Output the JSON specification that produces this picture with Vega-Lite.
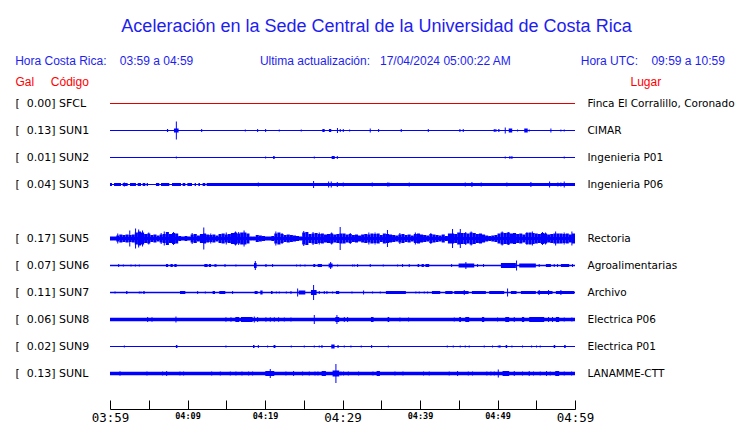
{
 "$schema": "https://vega.github.io/schema/vega-lite/v6.json",
 "width": 465, "height": 297,
 "autosize": {"type": "none"},
 "padding": {"left": 110, "top": 90, "right": 165, "bottom": 36},
 "background": "white",
 "config": {"view": {"stroke": null}, "font": "Liberation Sans"},
 "title": {
  "text": "\u2800Aceleración en la Sede Central de la Universidad de Costa Rica",
  "subtitle": "Hora Costa Rica:\u00a0\u00a0\u00a0\u00a003:59 a 04:59\u00a0\u00a0\u00a0\u00a0\u00a0\u00a0\u00a0\u00a0\u00a0\u00a0\u00a0\u00a0\u00a0\u00a0\u00a0\u00a0\u00a0\u00a0\u00a0\u00a0Ultima actualización:\u00a0\u00a0\u00a017/04/2024 05:00:22 AM\u00a0\u00a0\u00a0\u00a0\u00a0\u00a0\u00a0\u00a0\u00a0\u00a0\u00a0\u00a0\u00a0\u00a0\u00a0\u00a0\u00a0\u00a0\u00a0\u00a0\u00a0Hora UTC:\u00a0\u00a0\u00a0\u00a009:59 a 10:59",
  "anchor": "middle", "frame": "group", "dx": 27.5,
  "font": "Liberation Sans", "fontSize": 18, "fontWeight": "normal", "color": "#1e1ef0",
  "subtitleFont": "Liberation Sans", "subtitleFontSize": 12, "subtitleColor": "#1e1ef0",
  "subtitlePadding": 20, "offset": 8.5
 },
 "datasets": {
  "env": [
   {"s":"SFCL","t0":0,"t1":60,"w":1},
   {"s":"SUN1","t0":0,"t1":60,"w":1},
   {"s":"SUN1","t0":7.35,"t1":7.5,"w":3},
   {"s":"SUN1","t0":8.25,"t1":8.85,"w":4},
   {"s":"SUN1","t0":27.4,"t1":27.7,"w":3},
   {"s":"SUN1","t0":28.25,"t1":28.55,"w":3},
   {"s":"SUN1","t0":50.1,"t1":50.25,"w":3},
   {"s":"SUN1","t0":51.45,"t1":51.9,"w":4},
   {"s":"SUN1","t0":53.45,"t1":53.9,"w":4},
   {"s":"SUN2","t0":0,"t1":60,"w":1},
   {"s":"SUN2","t0":21.05,"t1":21.25,"w":3},
   {"s":"SUN2","t0":28.6,"t1":29.0,"w":3},
   {"s":"SUN3","t0":0,"t1":60,"w":1},
   {"s":"SUN3","t0":0,"t1":0.26,"w":3},
   {"s":"SUN3","t0":0.52,"t1":1.42,"w":3},
   {"s":"SUN3","t0":1.63,"t1":2.28,"w":3},
   {"s":"SUN3","t0":2.58,"t1":3.35,"w":3},
   {"s":"SUN3","t0":3.57,"t1":4.0,"w":3},
   {"s":"SUN3","t0":4.21,"t1":4.56,"w":3},
   {"s":"SUN3","t0":4.73,"t1":4.9,"w":3},
   {"s":"SUN3","t0":5.93,"t1":6.36,"w":3},
   {"s":"SUN3","t0":6.58,"t1":7.65,"w":3},
   {"s":"SUN3","t0":8.0,"t1":9.16,"w":3},
   {"s":"SUN3","t0":9.37,"t1":9.72,"w":3},
   {"s":"SUN3","t0":9.98,"t1":10.58,"w":3},
   {"s":"SUN3","t0":10.92,"t1":11.09,"w":3},
   {"s":"SUN3","t0":11.4,"t1":11.61,"w":3},
   {"s":"SUN3","t0":11.95,"t1":12.3,"w":3},
   {"s":"SUN3","t0":12.47,"t1":60,"w":3},
   {"s":"SUN5","t0":0,"t1":60,"w":3},
   {"s":"SUN5","t0":0.0,"t1":0.4,"w":4},
   {"s":"SUN5","t0":0.4,"t1":0.8,"w":4},
   {"s":"SUN5","t0":0.8,"t1":1.2,"w":6},
   {"s":"SUN5","t0":1.2,"t1":1.6,"w":8},
   {"s":"SUN5","t0":1.6,"t1":2.0,"w":7},
   {"s":"SUN5","t0":2.0,"t1":2.4,"w":8},
   {"s":"SUN5","t0":2.4,"t1":2.8,"w":7},
   {"s":"SUN5","t0":2.8,"t1":3.2,"w":8},
   {"s":"SUN5","t0":3.2,"t1":3.6,"w":12},
   {"s":"SUN5","t0":3.6,"t1":4.0,"w":14},
   {"s":"SUN5","t0":4.0,"t1":4.4,"w":12},
   {"s":"SUN5","t0":4.4,"t1":4.8,"w":9},
   {"s":"SUN5","t0":4.8,"t1":5.2,"w":10},
   {"s":"SUN5","t0":5.2,"t1":5.6,"w":7},
   {"s":"SUN5","t0":5.6,"t1":6.0,"w":8},
   {"s":"SUN5","t0":6.0,"t1":6.4,"w":6},
   {"s":"SUN5","t0":6.4,"t1":6.8,"w":8},
   {"s":"SUN5","t0":6.8,"t1":7.2,"w":9},
   {"s":"SUN5","t0":7.2,"t1":7.6,"w":13},
   {"s":"SUN5","t0":7.6,"t1":8.0,"w":9},
   {"s":"SUN5","t0":8.0,"t1":8.4,"w":11},
   {"s":"SUN5","t0":8.4,"t1":8.8,"w":10},
   {"s":"SUN5","t0":8.8,"t1":9.2,"w":5},
   {"s":"SUN5","t0":9.2,"t1":9.6,"w":4},
   {"s":"SUN5","t0":9.6,"t1":10.0,"w":5},
   {"s":"SUN5","t0":10.0,"t1":10.4,"w":4},
   {"s":"SUN5","t0":10.4,"t1":10.8,"w":8},
   {"s":"SUN5","t0":10.8,"t1":11.2,"w":9},
   {"s":"SUN5","t0":11.2,"t1":11.6,"w":6},
   {"s":"SUN5","t0":11.6,"t1":12.0,"w":9},
   {"s":"SUN5","t0":12.0,"t1":12.4,"w":10},
   {"s":"SUN5","t0":12.4,"t1":12.8,"w":8},
   {"s":"SUN5","t0":12.8,"t1":13.2,"w":7},
   {"s":"SUN5","t0":13.2,"t1":13.6,"w":8},
   {"s":"SUN5","t0":13.6,"t1":14.0,"w":6},
   {"s":"SUN5","t0":14.0,"t1":14.4,"w":9},
   {"s":"SUN5","t0":14.4,"t1":14.8,"w":10},
   {"s":"SUN5","t0":14.8,"t1":15.2,"w":8},
   {"s":"SUN5","t0":15.2,"t1":15.6,"w":9},
   {"s":"SUN5","t0":15.6,"t1":16.0,"w":11},
   {"s":"SUN5","t0":16.0,"t1":16.4,"w":12},
   {"s":"SUN5","t0":16.4,"t1":16.8,"w":10},
   {"s":"SUN5","t0":16.8,"t1":17.2,"w":12},
   {"s":"SUN5","t0":17.2,"t1":17.6,"w":12},
   {"s":"SUN5","t0":17.6,"t1":18.0,"w":10},
   {"s":"SUN5","t0":18.0,"t1":18.4,"w":4},
   {"s":"SUN5","t0":18.4,"t1":18.8,"w":4},
   {"s":"SUN5","t0":18.8,"t1":19.2,"w":7},
   {"s":"SUN5","t0":19.2,"t1":19.6,"w":6},
   {"s":"SUN5","t0":19.6,"t1":20.0,"w":5},
   {"s":"SUN5","t0":20.0,"t1":20.4,"w":4},
   {"s":"SUN5","t0":20.4,"t1":20.8,"w":4},
   {"s":"SUN5","t0":20.8,"t1":21.2,"w":5},
   {"s":"SUN5","t0":21.2,"t1":21.6,"w":10},
   {"s":"SUN5","t0":21.6,"t1":22.0,"w":12},
   {"s":"SUN5","t0":22.0,"t1":22.4,"w":9},
   {"s":"SUN5","t0":22.4,"t1":22.8,"w":7},
   {"s":"SUN5","t0":22.8,"t1":23.2,"w":8},
   {"s":"SUN5","t0":23.2,"t1":23.6,"w":7},
   {"s":"SUN5","t0":23.6,"t1":24.0,"w":6},
   {"s":"SUN5","t0":24.0,"t1":24.4,"w":5},
   {"s":"SUN5","t0":24.4,"t1":24.8,"w":4},
   {"s":"SUN5","t0":24.8,"t1":25.2,"w":12},
   {"s":"SUN5","t0":25.2,"t1":25.6,"w":13},
   {"s":"SUN5","t0":25.6,"t1":26.0,"w":9},
   {"s":"SUN5","t0":26.0,"t1":26.4,"w":10},
   {"s":"SUN5","t0":26.4,"t1":26.8,"w":11},
   {"s":"SUN5","t0":26.8,"t1":27.2,"w":9},
   {"s":"SUN5","t0":27.2,"t1":27.6,"w":10},
   {"s":"SUN5","t0":27.6,"t1":28.0,"w":8},
   {"s":"SUN5","t0":28.0,"t1":28.4,"w":9},
   {"s":"SUN5","t0":28.4,"t1":28.8,"w":10},
   {"s":"SUN5","t0":28.8,"t1":29.2,"w":8},
   {"s":"SUN5","t0":29.2,"t1":29.6,"w":9},
   {"s":"SUN5","t0":29.6,"t1":30.0,"w":10},
   {"s":"SUN5","t0":30.0,"t1":30.4,"w":10},
   {"s":"SUN5","t0":30.4,"t1":30.8,"w":8},
   {"s":"SUN5","t0":30.8,"t1":31.2,"w":9},
   {"s":"SUN5","t0":31.2,"t1":31.6,"w":7},
   {"s":"SUN5","t0":31.6,"t1":32.0,"w":8},
   {"s":"SUN5","t0":32.0,"t1":32.4,"w":6},
   {"s":"SUN5","t0":32.4,"t1":32.8,"w":8},
   {"s":"SUN5","t0":32.8,"t1":33.2,"w":9},
   {"s":"SUN5","t0":33.2,"t1":33.6,"w":8},
   {"s":"SUN5","t0":33.6,"t1":34.0,"w":10},
   {"s":"SUN5","t0":34.0,"t1":34.4,"w":9},
   {"s":"SUN5","t0":34.4,"t1":34.8,"w":10},
   {"s":"SUN5","t0":34.8,"t1":35.2,"w":7},
   {"s":"SUN5","t0":35.2,"t1":35.6,"w":10},
   {"s":"SUN5","t0":35.6,"t1":36.0,"w":9},
   {"s":"SUN5","t0":36.0,"t1":36.4,"w":8},
   {"s":"SUN5","t0":36.4,"t1":36.8,"w":7},
   {"s":"SUN5","t0":36.8,"t1":37.2,"w":6},
   {"s":"SUN5","t0":37.2,"t1":37.6,"w":8},
   {"s":"SUN5","t0":37.6,"t1":38.0,"w":9},
   {"s":"SUN5","t0":38.0,"t1":38.4,"w":7},
   {"s":"SUN5","t0":38.4,"t1":38.8,"w":8},
   {"s":"SUN5","t0":38.8,"t1":39.2,"w":6},
   {"s":"SUN5","t0":39.2,"t1":39.6,"w":9},
   {"s":"SUN5","t0":39.6,"t1":40.0,"w":10},
   {"s":"SUN5","t0":40.0,"t1":40.4,"w":8},
   {"s":"SUN5","t0":40.4,"t1":40.8,"w":7},
   {"s":"SUN5","t0":40.8,"t1":41.2,"w":6},
   {"s":"SUN5","t0":41.2,"t1":41.6,"w":9},
   {"s":"SUN5","t0":41.6,"t1":42.0,"w":8},
   {"s":"SUN5","t0":42.0,"t1":42.4,"w":7},
   {"s":"SUN5","t0":42.4,"t1":42.8,"w":6},
   {"s":"SUN5","t0":42.8,"t1":43.2,"w":8},
   {"s":"SUN5","t0":43.2,"t1":43.6,"w":5},
   {"s":"SUN5","t0":43.6,"t1":44.0,"w":10},
   {"s":"SUN5","t0":44.0,"t1":44.4,"w":10},
   {"s":"SUN5","t0":44.4,"t1":44.8,"w":9},
   {"s":"SUN5","t0":44.8,"t1":45.2,"w":12},
   {"s":"SUN5","t0":45.2,"t1":45.6,"w":11},
   {"s":"SUN5","t0":45.6,"t1":46.0,"w":11},
   {"s":"SUN5","t0":46.0,"t1":46.4,"w":10},
   {"s":"SUN5","t0":46.4,"t1":46.8,"w":12},
   {"s":"SUN5","t0":46.8,"t1":47.2,"w":11},
   {"s":"SUN5","t0":47.2,"t1":47.6,"w":9},
   {"s":"SUN5","t0":47.6,"t1":48.0,"w":10},
   {"s":"SUN5","t0":48.0,"t1":48.4,"w":8},
   {"s":"SUN5","t0":48.4,"t1":48.8,"w":6},
   {"s":"SUN5","t0":48.8,"t1":49.2,"w":5},
   {"s":"SUN5","t0":49.2,"t1":49.6,"w":6},
   {"s":"SUN5","t0":49.6,"t1":50.0,"w":7},
   {"s":"SUN5","t0":50.0,"t1":50.4,"w":10},
   {"s":"SUN5","t0":50.4,"t1":50.8,"w":12},
   {"s":"SUN5","t0":50.8,"t1":51.2,"w":11},
   {"s":"SUN5","t0":51.2,"t1":51.6,"w":12},
   {"s":"SUN5","t0":51.6,"t1":52.0,"w":10},
   {"s":"SUN5","t0":52.0,"t1":52.4,"w":11},
   {"s":"SUN5","t0":52.4,"t1":52.8,"w":9},
   {"s":"SUN5","t0":52.8,"t1":53.2,"w":10},
   {"s":"SUN5","t0":53.2,"t1":53.6,"w":8},
   {"s":"SUN5","t0":53.6,"t1":54.0,"w":11},
   {"s":"SUN5","t0":54.0,"t1":54.4,"w":12},
   {"s":"SUN5","t0":54.4,"t1":54.8,"w":11},
   {"s":"SUN5","t0":54.8,"t1":55.2,"w":10},
   {"s":"SUN5","t0":55.2,"t1":55.6,"w":9},
   {"s":"SUN5","t0":55.6,"t1":56.0,"w":11},
   {"s":"SUN5","t0":56.0,"t1":56.4,"w":10},
   {"s":"SUN5","t0":56.4,"t1":56.8,"w":8},
   {"s":"SUN5","t0":56.8,"t1":57.2,"w":9},
   {"s":"SUN5","t0":57.2,"t1":57.6,"w":10},
   {"s":"SUN5","t0":57.6,"t1":58.0,"w":10},
   {"s":"SUN5","t0":58.0,"t1":58.4,"w":10},
   {"s":"SUN5","t0":58.4,"t1":58.8,"w":9},
   {"s":"SUN5","t0":58.8,"t1":59.2,"w":10},
   {"s":"SUN5","t0":59.2,"t1":59.6,"w":8},
   {"s":"SUN5","t0":59.6,"t1":60.0,"w":10},
   {"s":"SUN6","t0":0,"t1":60,"w":1.5},
   {"s":"SUN6","t0":7.22,"t1":7.5,"w":3},
   {"s":"SUN6","t0":7.8,"t1":8.1,"w":3},
   {"s":"SUN6","t0":8.3,"t1":8.6,"w":3},
   {"s":"SUN6","t0":12.17,"t1":12.6,"w":3},
   {"s":"SUN6","t0":12.75,"t1":13.03,"w":3},
   {"s":"SUN6","t0":18.58,"t1":18.92,"w":5},
   {"s":"SUN6","t0":20.05,"t1":20.2,"w":3},
   {"s":"SUN6","t0":26.23,"t1":26.49,"w":3},
   {"s":"SUN6","t0":26.79,"t1":27.35,"w":3},
   {"s":"SUN6","t0":28.21,"t1":28.72,"w":4},
   {"s":"SUN6","t0":39.69,"t1":39.9,"w":3},
   {"s":"SUN6","t0":40.2,"t1":40.5,"w":3},
   {"s":"SUN6","t0":40.7,"t1":41.19,"w":3},
   {"s":"SUN6","t0":44.98,"t1":47.0,"w":4},
   {"s":"SUN6","t0":50.44,"t1":52.37,"w":5},
   {"s":"SUN6","t0":52.8,"t1":54.95,"w":4},
   {"s":"SUN6","t0":56.24,"t1":56.89,"w":3},
   {"s":"SUN6","t0":58.18,"t1":59.25,"w":3},
   {"s":"SUN7","t0":0,"t1":60,"w":1.5},
   {"s":"SUN7","t0":2.08,"t1":2.25,"w":3},
   {"s":"SUN7","t0":4.3,"t1":4.47,"w":3},
   {"s":"SUN7","t0":9.03,"t1":9.72,"w":3},
   {"s":"SUN7","t0":13.24,"t1":13.55,"w":3},
   {"s":"SUN7","t0":14.1,"t1":14.88,"w":3},
   {"s":"SUN7","t0":18.66,"t1":19.05,"w":3},
   {"s":"SUN7","t0":19.39,"t1":19.69,"w":4},
   {"s":"SUN7","t0":20.77,"t1":20.98,"w":3},
   {"s":"SUN7","t0":24.34,"t1":25.2,"w":4},
   {"s":"SUN7","t0":25.93,"t1":26.66,"w":5},
   {"s":"SUN7","t0":29.15,"t1":29.58,"w":3},
   {"s":"SUN7","t0":35.6,"t1":38.18,"w":3},
   {"s":"SUN7","t0":41.54,"t1":42.61,"w":3},
   {"s":"SUN7","t0":43.26,"t1":44.2,"w":3},
   {"s":"SUN7","t0":44.42,"t1":46.27,"w":3},
   {"s":"SUN7","t0":46.7,"t1":48.5,"w":3},
   {"s":"SUN7","t0":48.93,"t1":50.87,"w":3},
   {"s":"SUN7","t0":51.73,"t1":52.46,"w":3},
   {"s":"SUN7","t0":53.02,"t1":54.95,"w":3},
   {"s":"SUN7","t0":55.17,"t1":57.1,"w":3},
   {"s":"SUN7","t0":57.53,"t1":59.9,"w":3},
   {"s":"SUN8","t0":0,"t1":60,"w":3.5},
   {"s":"SUN8","t0":16.17,"t1":16.68,"w":5},
   {"s":"SUN8","t0":16.9,"t1":18.4,"w":5},
   {"s":"SUN8","t0":29.07,"t1":29.58,"w":5},
   {"s":"SUN8","t0":33.67,"t1":34.01,"w":5},
   {"s":"SUN8","t0":35.82,"t1":36.03,"w":5},
   {"s":"SUN8","t0":45.06,"t1":45.28,"w":5},
   {"s":"SUN8","t0":45.84,"t1":46.35,"w":5},
   {"s":"SUN8","t0":47.99,"t1":48.29,"w":5},
   {"s":"SUN8","t0":51.0,"t1":51.51,"w":5},
   {"s":"SUN8","t0":53.15,"t1":53.45,"w":5},
   {"s":"SUN8","t0":54.09,"t1":56.03,"w":5},
   {"s":"SUN8","t0":57.53,"t1":57.96,"w":5},
   {"s":"SUN9","t0":0,"t1":60,"w":1},
   {"s":"SUN9","t0":8.5,"t1":8.7,"w":3},
   {"s":"SUN9","t0":18.45,"t1":18.65,"w":3},
   {"s":"SUN9","t0":21.1,"t1":21.35,"w":3},
   {"s":"SUN9","t0":28.55,"t1":28.98,"w":4},
   {"s":"SUN9","t0":29.35,"t1":29.5,"w":3},
   {"s":"SUN9","t0":51.05,"t1":51.25,"w":3},
   {"s":"SUN9","t0":57.25,"t1":57.45,"w":3},
   {"s":"SUN9","t0":58.6,"t1":58.8,"w":3},
   {"s":"SUNL","t0":0,"t1":60,"w":3.5},
   {"s":"SUNL","t0":20.04,"t1":21.2,"w":5},
   {"s":"SUNL","t0":27.31,"t1":27.86,"w":5},
   {"s":"SUNL","t0":28.72,"t1":29.58,"w":6},
   {"s":"SUNL","t0":34.4,"t1":34.83,"w":5},
   {"s":"SUNL","t0":50.65,"t1":51.51,"w":5},
   {"s":"SUNL","t0":57.45,"t1":57.96,"w":5}
  ],
  "spk": [
   {"s":"SUN1","t0":8.56,"a":18},{"s":"SUN1","t0":11.83,"a":3},{"s":"SUN1","t0":17.46,"a":2},{"s":"SUN1","t0":19.05,"a":3},
   {"s":"SUN1","t0":20.08,"a":3},{"s":"SUN1","t0":21.84,"a":2},{"s":"SUN1","t0":24.68,"a":2},{"s":"SUN1","t0":29.35,"a":5},
   {"s":"SUN1","t0":29.71,"a":3},{"s":"SUN1","t0":30.1,"a":3},{"s":"SUN1","t0":30.92,"a":2},{"s":"SUN1","t0":33.58,"a":4},
   {"s":"SUN1","t0":34.66,"a":3},{"s":"SUN1","t0":37.58,"a":3},{"s":"SUN1","t0":41.07,"a":3},{"s":"SUN1","t0":45.15,"a":3},
   {"s":"SUN1","t0":45.58,"a":3},{"s":"SUN1","t0":49.58,"a":3},{"s":"SUN1","t0":49.79,"a":3},{"s":"SUN1","t0":51.0,"a":6},
   {"s":"SUN1","t0":52.59,"a":2},{"s":"SUN1","t0":54.09,"a":2},{"s":"SUN1","t0":56.89,"a":4},{"s":"SUN1","t0":58.18,"a":2},
   {"s":"SUN1","t0":58.61,"a":2},
   {"s":"SUN2","t0":8.56,"a":2},{"s":"SUN2","t0":20.08,"a":2},{"s":"SUN2","t0":26.36,"a":2},{"s":"SUN2","t0":29.33,"a":3},
   {"s":"SUN2","t0":51.0,"a":2},{"s":"SUN2","t0":51.6,"a":3},{"s":"SUN2","t0":51.86,"a":3},{"s":"SUN2","t0":58.61,"a":2},
   {"s":"SUN3","t0":1.85,"a":4},{"s":"SUN3","t0":14.1,"a":3},{"s":"SUN3","t0":19.14,"a":4},{"s":"SUN3","t0":23.26,"a":3},
   {"s":"SUN3","t0":26.27,"a":7},{"s":"SUN3","t0":28.21,"a":6},{"s":"SUN3","t0":28.55,"a":6},{"s":"SUN3","t0":29.33,"a":5},
   {"s":"SUN3","t0":30.1,"a":4},{"s":"SUN3","t0":33.84,"a":4},{"s":"SUN3","t0":35.82,"a":4},{"s":"SUN3","t0":35.99,"a":4},
   {"s":"SUN3","t0":38.61,"a":4},{"s":"SUN3","t0":44.85,"a":3},{"s":"SUN3","t0":45.84,"a":4},{"s":"SUN3","t0":46.7,"a":5},
   {"s":"SUN3","t0":47.9,"a":4},{"s":"SUN3","t0":51.21,"a":4},{"s":"SUN3","t0":54.31,"a":5},{"s":"SUN3","t0":56.72,"a":6},
   {"s":"SUN3","t0":57.79,"a":4},{"s":"SUN3","t0":58.18,"a":4},{"s":"SUN3","t0":58.61,"a":6},{"s":"SUN3","t0":59.9,"a":3},
   {"s":"SUN5","t0":1.0,"a":10},{"s":"SUN5","t0":2.55,"a":16},{"s":"SUN5","t0":3.3,"a":20},{"s":"SUN5","t0":3.7,"a":18},
   {"s":"SUN5","t0":4.2,"a":16},{"s":"SUN5","t0":5.0,"a":12},{"s":"SUN5","t0":6.6,"a":11},{"s":"SUN5","t0":7.0,"a":14},
   {"s":"SUN5","t0":8.2,"a":13},{"s":"SUN5","t0":10.6,"a":11},{"s":"SUN5","t0":12.1,"a":22},{"s":"SUN5","t0":13.0,"a":10},
   {"s":"SUN5","t0":15.0,"a":12},{"s":"SUN5","t0":16.2,"a":14},{"s":"SUN5","t0":16.6,"a":13},{"s":"SUN5","t0":17.3,"a":16},
   {"s":"SUN5","t0":21.4,"a":14},{"s":"SUN5","t0":22.2,"a":11},{"s":"SUN5","t0":25.0,"a":15},{"s":"SUN5","t0":26.2,"a":13},
   {"s":"SUN5","t0":27.0,"a":12},{"s":"SUN5","t0":28.6,"a":12},{"s":"SUN5","t0":29.7,"a":23},{"s":"SUN5","t0":31.0,"a":11},
   {"s":"SUN5","t0":33.4,"a":12},{"s":"SUN5","t0":34.2,"a":12},{"s":"SUN5","t0":35.8,"a":17},{"s":"SUN5","t0":37.4,"a":11},
   {"s":"SUN5","t0":39.4,"a":12},{"s":"SUN5","t0":41.4,"a":11},{"s":"SUN5","t0":44.2,"a":19},{"s":"SUN5","t0":45.2,"a":19},
   {"s":"SUN5","t0":45.9,"a":13},{"s":"SUN5","t0":46.6,"a":14},{"s":"SUN5","t0":50.6,"a":14},{"s":"SUN5","t0":51.4,"a":13},
   {"s":"SUN5","t0":53.8,"a":13},{"s":"SUN5","t0":54.5,"a":14},{"s":"SUN5","t0":55.8,"a":13},{"s":"SUN5","t0":56.2,"a":12},
   {"s":"SUN5","t0":57.5,"a":14},{"s":"SUN5","t0":58.6,"a":12},{"s":"SUN5","t0":59.6,"a":14},
   {"s":"SUN6","t0":1.12,"a":3},{"s":"SUN6","t0":1.72,"a":2},{"s":"SUN6","t0":2.71,"a":2},{"s":"SUN6","t0":3.27,"a":2},
   {"s":"SUN6","t0":3.78,"a":2},{"s":"SUN6","t0":13.55,"a":3},{"s":"SUN6","t0":13.67,"a":3},{"s":"SUN6","t0":14.84,"a":3},
   {"s":"SUN6","t0":16.25,"a":2},{"s":"SUN6","t0":18.75,"a":9},{"s":"SUN6","t0":20.98,"a":3},{"s":"SUN6","t0":24.08,"a":2},
   {"s":"SUN6","t0":24.55,"a":2},{"s":"SUN6","t0":25.16,"a":2},{"s":"SUN6","t0":28.47,"a":7},{"s":"SUN6","t0":29.37,"a":2},
   {"s":"SUN6","t0":31.3,"a":2},{"s":"SUN6","t0":31.52,"a":2},{"s":"SUN6","t0":31.95,"a":3},{"s":"SUN6","t0":33.58,"a":3},
   {"s":"SUN6","t0":35.26,"a":2},{"s":"SUN6","t0":37.11,"a":2},{"s":"SUN6","t0":37.75,"a":3},{"s":"SUN6","t0":38.61,"a":3},
   {"s":"SUN6","t0":44.08,"a":3},{"s":"SUN6","t0":45.92,"a":7},{"s":"SUN6","t0":47.43,"a":3},{"s":"SUN6","t0":48.2,"a":3},
   {"s":"SUN6","t0":52.46,"a":10},{"s":"SUN6","t0":55.38,"a":3},{"s":"SUN6","t0":57.32,"a":3},{"s":"SUN6","t0":57.75,"a":3},
   {"s":"SUN6","t0":59.68,"a":3},
   {"s":"SUN7","t0":0.65,"a":2},{"s":"SUN7","t0":3.78,"a":2},{"s":"SUN7","t0":4.0,"a":2},{"s":"SUN7","t0":11.31,"a":3},
   {"s":"SUN7","t0":12.3,"a":2},{"s":"SUN7","t0":15.82,"a":3},{"s":"SUN7","t0":21.46,"a":2},{"s":"SUN7","t0":21.84,"a":2},
   {"s":"SUN7","t0":22.75,"a":2},{"s":"SUN7","t0":23.35,"a":3},{"s":"SUN7","t0":24.21,"a":8},{"s":"SUN7","t0":26.27,"a":15},
   {"s":"SUN7","t0":27.0,"a":3},{"s":"SUN7","t0":27.65,"a":3},{"s":"SUN7","t0":27.99,"a":3},{"s":"SUN7","t0":28.72,"a":2},
   {"s":"SUN7","t0":31.22,"a":2},{"s":"SUN7","t0":32.72,"a":4},{"s":"SUN7","t0":33.88,"a":2},{"s":"SUN7","t0":34.87,"a":2},
   {"s":"SUN7","t0":39.47,"a":2},{"s":"SUN7","t0":39.9,"a":2},{"s":"SUN7","t0":40.55,"a":2},{"s":"SUN7","t0":40.98,"a":2},
   {"s":"SUN7","t0":45.71,"a":5},{"s":"SUN7","t0":51.3,"a":8},{"s":"SUN7","t0":55.38,"a":5},{"s":"SUN7","t0":56.59,"a":5},
   {"s":"SUN7","t0":58.18,"a":5},
   {"s":"SUN8","t0":4.86,"a":5},{"s":"SUN8","t0":5.42,"a":4.5},{"s":"SUN8","t0":8.51,"a":6},{"s":"SUN8","t0":14.96,"a":4.5},
   {"s":"SUN8","t0":15.61,"a":4.5},{"s":"SUN8","t0":18.62,"a":6},{"s":"SUN8","t0":19.05,"a":5},{"s":"SUN8","t0":20.12,"a":4.5},
   {"s":"SUN8","t0":20.68,"a":4.5},{"s":"SUN8","t0":21.2,"a":4.5},{"s":"SUN8","t0":21.76,"a":4.5},{"s":"SUN8","t0":22.49,"a":4},
   {"s":"SUN8","t0":23.35,"a":4},{"s":"SUN8","t0":26.36,"a":9},{"s":"SUN8","t0":29.28,"a":9},{"s":"SUN8","t0":30.23,"a":5},
   {"s":"SUN8","t0":30.66,"a":5},{"s":"SUN8","t0":37.41,"a":4},{"s":"SUN8","t0":38.53,"a":4},{"s":"SUN8","t0":44.42,"a":4},
   {"s":"SUN8","t0":50.01,"a":4},{"s":"SUN8","t0":52.16,"a":5},{"s":"SUN8","t0":56.59,"a":5},{"s":"SUN8","t0":57.1,"a":5},
   {"s":"SUN8","t0":58.61,"a":4},{"s":"SUN8","t0":59.6,"a":4},
   {"s":"SUN9","t0":1.85,"a":2},{"s":"SUN9","t0":14.96,"a":2},{"s":"SUN9","t0":19.14,"a":3},{"s":"SUN9","t0":20.34,"a":2},
   {"s":"SUN9","t0":23.39,"a":2},{"s":"SUN9","t0":25.07,"a":2},{"s":"SUN9","t0":26.36,"a":2},{"s":"SUN9","t0":27.0,"a":2},
   {"s":"SUN9","t0":27.35,"a":3},{"s":"SUN9","t0":30.23,"a":2},{"s":"SUN9","t0":31.09,"a":2},{"s":"SUN9","t0":32.42,"a":2},
   {"s":"SUN9","t0":33.76,"a":3},{"s":"SUN9","t0":35.91,"a":2},{"s":"SUN9","t0":43.52,"a":2},{"s":"SUN9","t0":44.29,"a":2},
   {"s":"SUN9","t0":45.19,"a":2},{"s":"SUN9","t0":45.84,"a":2},{"s":"SUN9","t0":46.35,"a":2},{"s":"SUN9","t0":48.29,"a":2},
   {"s":"SUN9","t0":49.36,"a":2},{"s":"SUN9","t0":50.1,"a":2},{"s":"SUN9","t0":50.31,"a":3},{"s":"SUN9","t0":51.86,"a":2},
   {"s":"SUN9","t0":53.23,"a":2},{"s":"SUN9","t0":54.4,"a":2},{"s":"SUN9","t0":55.04,"a":2},{"s":"SUN9","t0":55.51,"a":2},
   {"s":"SUNL","t0":1.29,"a":4.5},{"s":"SUNL","t0":4.77,"a":4},{"s":"SUNL","t0":6.79,"a":4},{"s":"SUNL","t0":7.31,"a":5},
   {"s":"SUNL","t0":9.03,"a":4},{"s":"SUNL","t0":9.5,"a":4},{"s":"SUNL","t0":13.12,"a":4},{"s":"SUNL","t0":14.23,"a":4},
   {"s":"SUNL","t0":15.52,"a":4},{"s":"SUNL","t0":16.25,"a":4},{"s":"SUNL","t0":17.03,"a":4},{"s":"SUNL","t0":17.89,"a":4},
   {"s":"SUNL","t0":18.4,"a":4},{"s":"SUNL","t0":20.68,"a":9},{"s":"SUNL","t0":22.7,"a":4},{"s":"SUNL","t0":23.69,"a":5},
   {"s":"SUNL","t0":24.85,"a":4},{"s":"SUNL","t0":25.71,"a":4},{"s":"SUNL","t0":26.45,"a":4},{"s":"SUNL","t0":26.83,"a":4},
   {"s":"SUNL","t0":29.15,"a":19},{"s":"SUNL","t0":29.8,"a":4},{"s":"SUNL","t0":30.14,"a":4},{"s":"SUNL","t0":30.75,"a":4},
   {"s":"SUNL","t0":32.08,"a":4},{"s":"SUNL","t0":33.93,"a":4},{"s":"SUNL","t0":36.77,"a":4},{"s":"SUNL","t0":37.8,"a":4},
   {"s":"SUNL","t0":40.46,"a":4},{"s":"SUNL","t0":41.19,"a":4},{"s":"SUNL","t0":43.77,"a":4},{"s":"SUNL","t0":44.85,"a":5},
   {"s":"SUNL","t0":46.23,"a":4},{"s":"SUNL","t0":46.78,"a":4},{"s":"SUNL","t0":48.63,"a":4},{"s":"SUNL","t0":49.15,"a":4},
   {"s":"SUNL","t0":49.58,"a":4},{"s":"SUNL","t0":50.1,"a":8},{"s":"SUNL","t0":52.16,"a":5},{"s":"SUNL","t0":53.23,"a":4},
   {"s":"SUNL","t0":54.09,"a":5},{"s":"SUNL","t0":54.65,"a":4},{"s":"SUNL","t0":55.51,"a":4},{"s":"SUNL","t0":56.33,"a":5},
   {"s":"SUNL","t0":56.8,"a":4},{"s":"SUNL","t0":58.61,"a":4},{"s":"SUNL","t0":59.56,"a":4}
  ]
 },
 "encoding": {
  "x": {
   "field": "t0", "type": "quantitative",
   "scale": {"domain": [0, 60], "nice": false, "zero": false},
   "axis": {
    "orient": "bottom", "offset": 22, "values": [0,5,10,15,20,25,30,35,40,45,50,55,60],
    "title": null, "grid": false,
    "domain": true, "domainColor": "#000000", "domainWidth": 1,
    "ticks": true, "tickColor": "#000000", "tickWidth": 1, "tickSize": -9,
    "labelExpr": "datum.value % 10 == 0 ? ['03:59','04:09','04:19','04:29','04:39','04:49','04:59'][datum.value / 10] : ''",
    "labelFont": "DejaVu Sans Mono",
    "labelFontSize": {"condition": {"test": "datum.value % 30 == 0", "value": 12.5}, "value": 8.5},
    "labelFontWeight": {"condition": {"test": "datum.value % 30 == 0", "value": "normal"}, "value": "bold"},
    "labelColor": "#000000", "labelBaseline": "top", "labelPadding": 11,
    "labelFlush": false, "labelOverlap": false, "labelBound": false
   }
  }
 },
 "layer": [
  {
   "data": {"name": "env"},
   "mark": {"type": "rule", "strokeCap": "butt", "opacity": 1},
   "encoding": {
    "x2": {"field": "t1"},
    "y": {
     "field": "s", "type": "nominal",
     "scale": {"type": "point", "padding": 0.5, "domain": ["SFCL","SUN1","SUN2","SUN3","SUN4","SUN5","SUN6","SUN7","SUN8","SUN9","SUNL"]},
     "axis": {
      "orient": "right", "title": "Lugar", "titleAngle": 0, "titleAlign": "left", "titleBaseline": "alphabetic",
      "titleX": 55, "titleY": -5, "titleFont": "Liberation Sans", "titleFontSize": 12, "titleFontWeight": "normal", "titleColor": "#ff0000",
      "domain": false, "ticks": false, "tickSize": 0, "grid": false,
      "labelPadding": 12, "labelAlign": "left", "labelBaseline": "middle",
      "labelFont": "DejaVu Sans", "labelFontSize": 10.5, "labelColor": "#000000",
      "labelExpr": "['Finca El Corralillo, Coronado','CIMAR','Ingenieria P01','Ingenieria P06','','Rectoria','Agroalimentarias','Archivo','Electrica P06','Electrica P01','LANAMME-CTT'][indexof(['SFCL','SUN1','SUN2','SUN3','SUN4','SUN5','SUN6','SUN7','SUN8','SUN9','SUNL'], datum.value)]"
     }
    },
    "strokeWidth": {"field": "w", "type": "quantitative", "scale": {"domain": [0, 30], "range": [0, 30], "zero": true}, "legend": null},
    "color": {"condition": {"test": "datum.s == 'SFCL'", "value": "#e00000"}, "value": "#0000ff"}
   }
  },
  {
   "data": {"name": "spk"},
   "mark": {"type": "tick", "orient": "vertical", "thickness": 1, "opacity": 1},
   "encoding": {
    "y": {
     "field": "s", "type": "nominal",
     "axis": {
      "orient": "left", "title": "Gal\u00a0\u00a0\u00a0\u00a0\u00a0Código", "titleAngle": 0, "titleAlign": "left", "titleBaseline": "alphabetic",
      "titleX": -95, "titleY": -5, "titleFont": "Liberation Sans", "titleFontSize": 12, "titleFontWeight": "normal", "titleColor": "#ff0000",
      "domain": false, "ticks": false, "tickSize": 0, "grid": false,
      "labelPadding": 95, "labelAlign": "left", "labelBaseline": "middle",
      "labelFont": "DejaVu Sans", "labelFontSize": 11, "labelColor": "#000000",
      "labelExpr": "['[\u00a0\u00a00.00]\u00a0SFCL','[\u00a0\u00a00.13]\u00a0SUN1','[\u00a0\u00a00.01]\u00a0SUN2','[\u00a0\u00a00.04]\u00a0SUN3','','[\u00a0\u00a00.17]\u00a0SUN5','[\u00a0\u00a00.07]\u00a0SUN6','[\u00a0\u00a00.11]\u00a0SUN7','[\u00a0\u00a00.06]\u00a0SUN8','[\u00a0\u00a00.02]\u00a0SUN9','[\u00a0\u00a00.13]\u00a0SUNL'][indexof(['SFCL','SUN1','SUN2','SUN3','SUN4','SUN5','SUN6','SUN7','SUN8','SUN9','SUNL'], datum.value)]"
     }
    },
    "size": {"field": "a", "type": "quantitative", "scale": {"domain": [0, 30], "range": [0, 30], "zero": true}, "legend": null},
    "color": {"condition": {"test": "datum.s == 'SFCL'", "value": "#e00000"}, "value": "#0000ff"}
   }
  }
 ],
 "resolve": {"axis": {"y": "independent"}}
}
